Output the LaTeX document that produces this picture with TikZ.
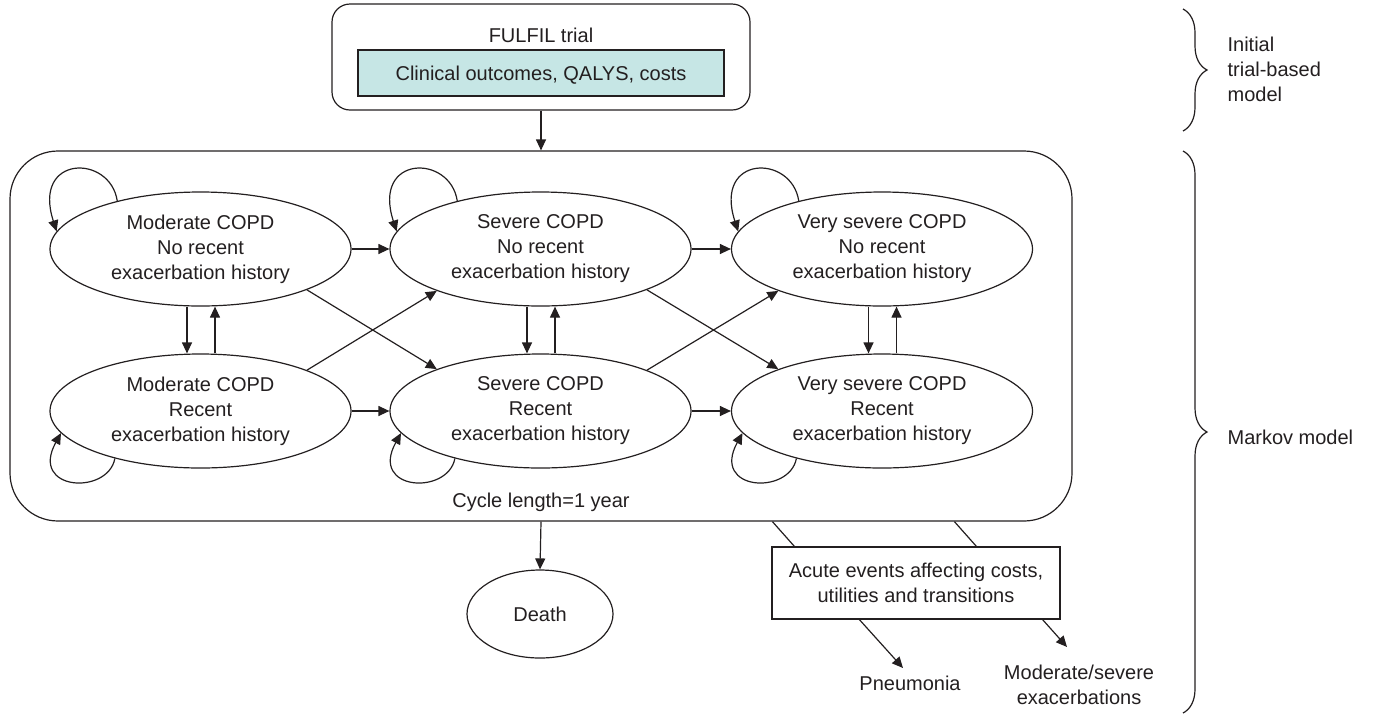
\documentclass[tikz,border=0pt]{standalone}
\usepackage{fontspec}
\setmainfont{Liberation Sans}
\usetikzlibrary{shapes.geometric,arrows.meta,decorations.pathreplacing,calc}
\definecolor{ink}{HTML}{231F20}
\definecolor{boxfill}{HTML}{C6E6E5}
\begin{document}
\begin{tikzpicture}[x=1pt,y=-1pt,
  font=\fontsize{20}{25}\selectfont, text=ink, line width=1.2pt,
  arr/.style={draw=ink,-{Triangle[length=11pt,width=10pt]}},
  ln/.style={draw=ink},
  state/.style={ellipse,draw=ink,minimum width=301pt,minimum height=114pt,inner sep=0pt,align=center},
  lbl/.style={inner sep=0pt,align=center}]
\useasboundingbox (0,0) rectangle (1375,716);

% top box
\node[draw=ink,rounded corners=18pt,minimum width=418pt,minimum height=106pt,inner sep=0pt] (top) at (541,57) {};
\node[lbl,anchor=base] (fulfil) at (541,42) {FULFIL trial};
\node[draw=ink,fill=boxfill,minimum width=366pt,minimum height=46pt,inner sep=0pt] (outc) at (541,73) {};
\node[lbl,anchor=base] (outct) at (541,80) {Clinical outcomes, QALYS, costs};

% Markov box
\node[draw=ink,rounded corners=48pt,minimum width=1062pt,minimum height=370pt,inner sep=0pt] (markov) at (541,336) {};
\node[lbl,anchor=base] (cycle) at (541,507) {Cycle length=1 year};

\draw[arr] (top.south) -- (markov.north);

% states
\node[state] (e1) at (200.5,249) {Moderate COPD\\No recent\\exacerbation history};
\node[state] (e2) at (540.5,249) {Severe COPD\\No recent\\exacerbation history};
\node[state] (e3) at (882,249) {Very severe COPD\\No recent\\exacerbation history};
\node[state] (e4) at (200.5,411) {Moderate COPD\\Recent\\exacerbation history};
\node[state] (e5) at (540.5,411) {Severe COPD\\Recent\\exacerbation history};
\node[state] (e6) at (882,411) {Very severe COPD\\Recent\\exacerbation history};

% horizontal
\draw[arr] (e1.east) -- (e2.west);
\draw[arr] (e2.east) -- (e3.west);
\draw[arr] (e4.east) -- (e5.west);
\draw[arr] (e5.east) -- (e6.west);
% vertical
\foreach \a/\b in {e1/e4,e2/e5,e3/e6}{
  \draw[arr] ([xshift=-13.5pt]\a.south) -- ([xshift=-13.5pt]\b.north);
  \draw[arr] ([xshift=14.5pt]\b.north) -- ([xshift=14.5pt]\a.south);
}
% diagonals
\draw[arr] (e1.-21.5) -- (e5.158.5);
\draw[arr] (e4.21.5) -- (e2.-158.5);
\draw[arr] (e2.-21.5) -- (e6.158.5);
\draw[arr] (e5.21.5) -- (e3.-158.5);

% self loops
\foreach \e in {e1,e2,e3}{
  \draw[arr] (\e.150.6) .. controls +(-7,-47) and +(-25,-77) .. (\e.173.3);
}
\foreach \e in {e4,e5,e6}{
  \draw[arr] (\e.209.4) .. controls +(-7,37) and +(-32,58) .. (\e.189);
}

% death
\node[ellipse,draw=ink,minimum width=146pt,minimum height=88pt,inner sep=0pt] (death) at (540,614) {Death};
\draw[arr] (markov.south) -- (death.north);

% acute events
\node[draw=ink,minimum width=288pt,minimum height=72pt,inner sep=0pt,align=center] (acute) at (916,583) {Acute events affecting costs,\\utilities and transitions};
\draw[ln] ($(markov.south west)+(763,0)$) -- ($(acute.north west)+(23,0)$);
\draw[ln] ($(markov.south west)+(945,0)$) -- ($(acute.north west)+(205,0)$);

\node[lbl,anchor=base] (pneu) at (910,690) {Pneumonia};
\node[lbl] (modsev) at (1079,685) {Moderate/severe\\exacerbations};
\coordinate (ptip) at (903,668);
\coordinate (mtip) at (1067,647);
\draw[arr] ($(acute.south west)+(88,0)$) -- (ptip);
\draw[arr] ($(acute.south east)+(-18,0)$) -- (mtip);

% braces
\draw[ln,decorate,decoration={brace,amplitude=24pt}] (1183,9) -- (1183,131);
\draw[ln,decorate,decoration={brace,amplitude=24pt}] (1183,151) -- (1183,713);
\node[lbl,anchor=west,align=left] (initial) at (1227,69) {Initial\\trial-based\\model};
\node[lbl,anchor=west] (markovlbl) at (1227,437) {Markov model};
\end{tikzpicture}
\end{document}
